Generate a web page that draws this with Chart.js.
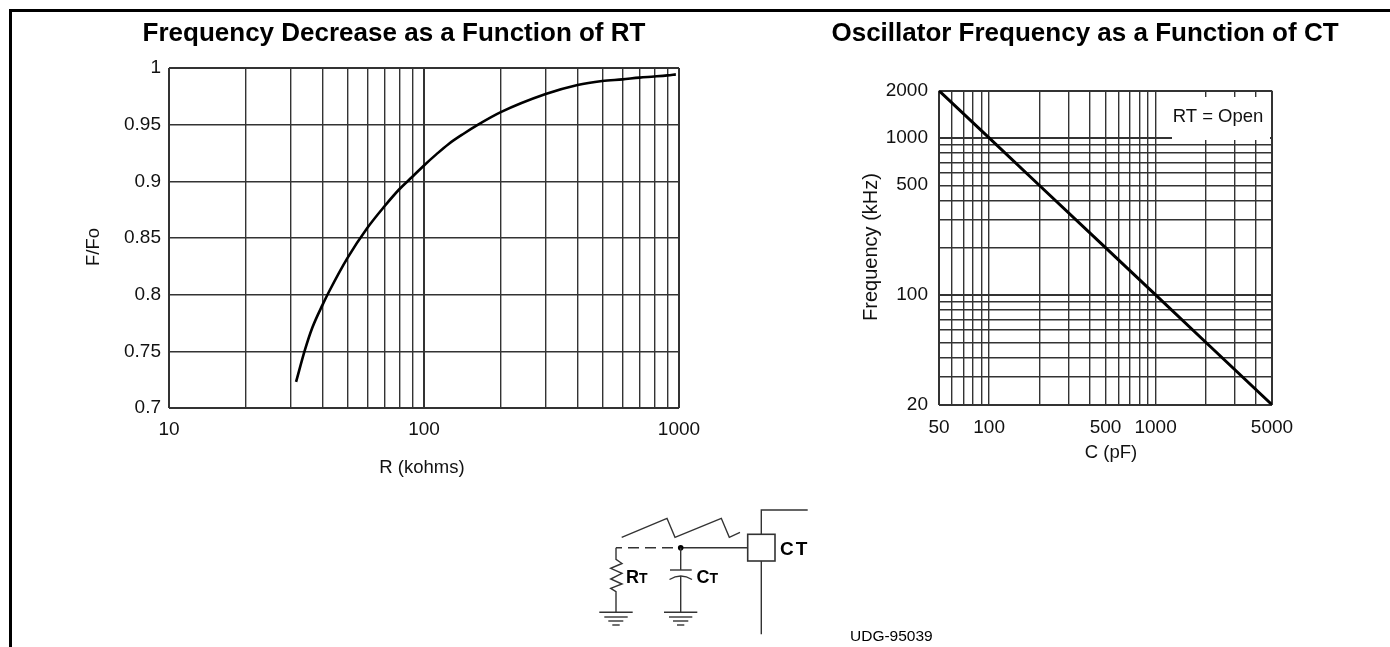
<!DOCTYPE html>
<html>
<head>
<meta charset="utf-8">
<title>Oscillator frequency charts</title>
<script src="https://cdn.jsdelivr.net/npm/chart.js@4"></script>
<style>
  html, body { margin: 0; padding: 0; background: #fff; }
  #page { position: relative; width: 1390px; height: 647px; overflow: hidden; background: #fff; }
  #page canvas { position: absolute; }
  #leftChart { left: 20px; top: 14px; }
  #rightChart { left: 790px; top: 14px; }
  .frameTop { position: absolute; left: 9px; top: 9px; width: 1381px; height: 3px; background: #000; }
  .frameLeft { position: absolute; left: 9px; top: 9px; width: 3px; height: 638px; background: #000; }
  #schematic { position: absolute; left: 0; top: 0; }
  #schematic text { font-family: "Liberation Sans", Arial, sans-serif; fill: #000; }
</style>
</head>
<body>
<div id="page">
  <div class="frameTop"></div>
  <div class="frameLeft"></div>
  <canvas id="leftChart" width="748" height="464"></canvas>
  <canvas id="rightChart" width="590" height="461"></canvas>
  <svg id="schematic" width="1390" height="647" fill="none" stroke="#333" stroke-width="1.4">
    <polyline points="621.7,537.3 667,518.3 675,537.3 721.3,518.3 729.3,537.3 740,532.3"/>
    <polyline points="807.7,510 761.3,510 761.3,534.3"/>
    <rect x="747.7" y="534.3" width="27.3" height="26.7" stroke-width="1.6"/>
    <line x1="761.3" y1="561" x2="761.3" y2="634.3"/>
    <line x1="616" y1="547.7" x2="680" y2="547.7" stroke-dasharray="11 6" stroke-dashoffset="5"/>
    <line x1="680" y1="547.7" x2="747.7" y2="547.7"/>
    <circle cx="680.7" cy="547.7" r="2.8" fill="#000" stroke="none"/>
    <polyline points="616,547.7 616,559.3 622,563.5 610.7,568.3 622,573.3 610.7,579 622,584 610.7,588.3 616,591.7 616,612.3"/>
    <line x1="599.3" y1="612.3" x2="632.7" y2="612.3"/>
    <line x1="604.3" y1="617" x2="627.7" y2="617"/>
    <line x1="608.3" y1="621" x2="623.3" y2="621"/>
    <line x1="612.3" y1="625" x2="619.7" y2="625"/>
    <line x1="680.7" y1="547.7" x2="680.7" y2="570"/>
    <line x1="670" y1="570" x2="691.7" y2="570"/>
    <path d="M669.5 579.5 Q680.7 572.5 692 579.5"/>
    <line x1="680.7" y1="576" x2="680.7" y2="612.3"/>
    <line x1="664" y1="612.3" x2="697.3" y2="612.3"/>
    <line x1="669" y1="617" x2="692.3" y2="617"/>
    <line x1="673" y1="621" x2="688.3" y2="621"/>
    <line x1="677" y1="625" x2="684.3" y2="625"/>
    <g stroke="none">
      <text x="780" y="554.5" font-size="19" font-weight="bold" letter-spacing="2">CT</text>
      <text x="626" y="583" font-size="18" font-weight="bold">R<tspan font-size="14">T</tspan></text>
      <text x="696.5" y="583" font-size="18" font-weight="bold">C<tspan font-size="14">T</tspan></text>
      <text x="850" y="641" font-size="15.5">UDG-95039</text>
    </g>
  </svg>
</div>
<script>
// left chart
const rValues = [31.5, 34.1, 36.5, 40, 42.5, 50, 60, 70, 80, 90, 100, 112, 125, 143, 163, 200, 300, 400, 500, 600, 700, 800, 900, 972];
const ffoValues = [0.723, 0.751, 0.771, 0.791, 0.803, 0.832, 0.859, 0.878, 0.893, 0.904, 0.914, 0.924, 0.933, 0.942, 0.95, 0.961, 0.977, 0.985, 0.9885, 0.99, 0.9915, 0.9925, 0.9935, 0.9944];
const leftXGrid = [10, 20, 30, 40, 50, 60, 70, 80, 90, 100, 200, 300, 400, 500, 600, 700, 800, 900, 1000];
const leftXLabels = [10, 100, 1000];
const leftYTicks = [0.7, 0.75, 0.8, 0.85, 0.9, 0.95, 1];

// right chart
const cValues = [50, 100, 200, 500, 1000, 2000, 5000];
const freqValues = [2000, 1000, 500, 200, 100, 50, 20];
const rightXGrid = [50, 60, 70, 80, 90, 100, 200, 300, 400, 500, 600, 700, 800, 900, 1000, 2000, 3000, 4000, 5000];
const rightXLabels = [50, 100, 500, 1000, 5000];
const rightYGrid = [20, 30, 40, 50, 60, 70, 80, 90, 100, 200, 300, 400, 500, 600, 700, 800, 900, 1000, 2000];
const rightYLabels = [20, 100, 500, 1000, 2000];

const FONT = '"Liberation Sans", Arial, sans-serif';
Chart.defaults.font.family = FONT;
Chart.defaults.color = '#111';

// axis titles and the note sit off-centre in the original, so they are placed by hand
const textPlugin = {
  id: 'freeText',
  afterLayout(chart) {
    // centre the title on the whole canvas, not on the padded area
    chart.titleBlock.left = 0;
    chart.titleBlock.right = chart.width;
  },
  afterDraw(chart, args, opts) {
    const ctx = chart.ctx;
    ctx.save();
    if (opts.box) {
      ctx.fillStyle = '#fff';
      ctx.fillRect(opts.box[0], opts.box[1], opts.box[2], opts.box[3]);
    }
    ctx.fillStyle = '#111';
    ctx.textAlign = 'center';
    ctx.textBaseline = 'middle';
    (opts.items || []).forEach(it => {
      ctx.save();
      ctx.font = it.size + 'px ' + FONT;
      ctx.translate(it.x, it.y);
      if (it.rot) ctx.rotate(it.rot);
      ctx.fillText(it.text, 0, 0);
      ctx.restore();
    });
    ctx.restore();
  }
};

function makeChart(id, cfg) {
  const gridWidth = (edges, heavy) => c => {
    const v = c.tick ? c.tick.value : null;
    if (edges.includes(v)) return 2;
    if (heavy.includes(v)) return 2;
    return 1.4;
  };
  return new Chart(document.getElementById(id), {
    type: 'scatter',
    data: {
      datasets: [{
        data: cfg.xs.map((x, i) => ({ x: x, y: cfg.ys[i] })),
        showLine: true,
        borderColor: '#000',
        borderWidth: cfg.lineWidth,
        pointRadius: 0,
        cubicInterpolationMode: cfg.curve
      }]
    },
    plugins: [textPlugin],
    options: {
      responsive: false,
      animation: false,
      layout: { padding: { left: 0, right: cfg.padRight, top: 0, bottom: 0 } },
      plugins: {
        legend: { display: false },
        tooltip: { enabled: false },
        title: {
          display: true,
          text: cfg.title,
          color: '#000',
          font: { size: 26, weight: 'bold' },
          padding: { top: 4, bottom: cfg.titleGap }
        },
        freeText: { items: cfg.items, box: cfg.box }
      },
      scales: {
        x: {
          type: 'logarithmic',
          min: cfg.xGrid[0],
          max: cfg.xGrid[cfg.xGrid.length - 1],
          afterBuildTicks: s => { s.ticks = cfg.xGrid.map(v => ({ value: v })); },
          afterFit: s => { s.height = cfg.xAxisHeight; },
          grid: { color: '#333', drawTicks: false, lineWidth: gridWidth([cfg.xGrid[0], cfg.xGrid[cfg.xGrid.length - 1]], cfg.xHeavy) },
          border: { display: false },
          ticks: {
            autoSkip: false,
            maxRotation: 0,
            padding: cfg.xPad,
            font: { size: 19 },
            callback: v => cfg.xLabels.includes(v) ? String(v) : ''
          }
        },
        y: {
          type: cfg.yType,
          min: cfg.yGrid[0],
          max: cfg.yGrid[cfg.yGrid.length - 1],
          afterBuildTicks: s => { s.ticks = cfg.yGrid.map(v => ({ value: v })); },
          afterFit: s => { s.width = 149; },
          grid: { color: '#333', drawTicks: false, lineWidth: gridWidth([cfg.yGrid[0], cfg.yGrid[cfg.yGrid.length - 1]], cfg.yHeavy) },
          border: { display: false },
          ticks: {
            autoSkip: false,
            padding: cfg.yPad,
            font: { size: 19 },
            callback: v => cfg.yLabels.includes(v) ? String(v) : ''
          }
        }
      }
    }
  });
}

makeChart('leftChart', {
  xs: rValues, ys: ffoValues, lineWidth: 2.6, curve: 'monotone',
  title: 'Frequency Decrease as a Function of RT',
  titleGap: 18.8, padRight: 89, xAxisHeight: 70, xPad: 10, yPad: 8,
  xGrid: leftXGrid, xLabels: leftXLabels, xHeavy: [100],
  yType: 'linear', yGrid: leftYTicks, yLabels: leftYTicks, yHeavy: [],
  items: [
    { text: 'R (kohms)', x: 402, y: 454, size: 18.5 },
    { text: 'F/Fo', x: 74, y: 233, size: 18.5, rot: -Math.PI / 2 }
  ]
});

makeChart('rightChart', {
  xs: cValues, ys: freqValues, lineWidth: 3, curve: 'default',
  title: 'Oscillator Frequency as a Function of CT',
  titleGap: 41.5, padRight: 108, xAxisHeight: 70.3, xPad: 12, yPad: 11,
  xGrid: rightXGrid, xLabels: rightXLabels, xHeavy: [],
  yType: 'logarithmic', yGrid: rightYGrid, yLabels: rightYLabels, yHeavy: [100, 1000],
  box: [382, 83, 98, 43],
  items: [
    { text: 'C (pF)', x: 321, y: 439, size: 18.5 },
    { text: 'Frequency (kHz)', x: 81, y: 233, size: 20, rot: -Math.PI / 2 },
    { text: 'RT = Open', x: 428, y: 103, size: 18.5 }
  ]
});
</script>
</body>
</html>
